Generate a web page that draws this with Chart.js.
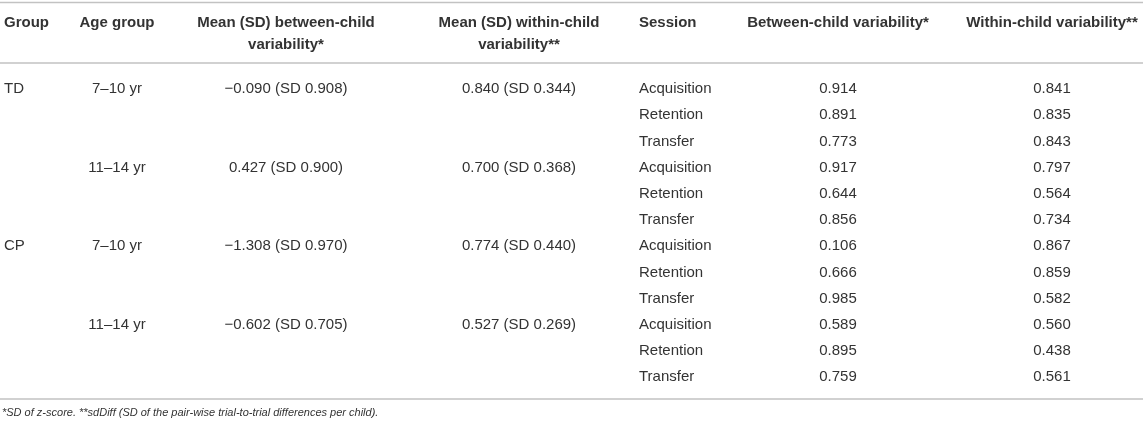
<!DOCTYPE html>
<html lang="en">
<head>
<meta charset="UTF-8">
<title>Between- and within-child variability</title>
<script src="https://cdn.jsdelivr.net/npm/chart.js"></script>
<style>
  html, body { margin: 0; padding: 0; background: #ffffff; }
  #wrap { width: 1143px; height: 426px; }
</style>
</head>
<body>
<div id="wrap"><canvas id="varTable" width="1143" height="426"></canvas></div>
<script>
// ---- table content ----
const headers = [
  ['Group'],
  ['Age group'],
  ['Mean (SD) between-child', 'variability*'],
  ['Mean (SD) within-child', 'variability**'],
  ['Session'],
  ['Between-child variability*'],
  ['Within-child variability**']
];
const groups = ['TD', 'CP'];
const ageGroups = ['7\u201310 yr', '11\u201314 yr'];
const meanBetween = [-0.090, 0.427, -1.308, -0.602];
const sdBetween = [0.908, 0.900, 0.970, 0.705];
const meanWithin = [0.840, 0.700, 0.774, 0.527];
const sdWithin = [0.344, 0.368, 0.440, 0.269];
const sessions = ['Acquisition', 'Retention', 'Transfer'];
const betweenChild = [0.914, 0.891, 0.773, 0.917, 0.644, 0.856, 0.106, 0.666, 0.985, 0.589, 0.895, 0.759];
const withinChild = [0.841, 0.835, 0.843, 0.797, 0.564, 0.734, 0.867, 0.859, 0.582, 0.560, 0.438, 0.561];
const footnote = '*SD of z-score. **sdDiff (SD of the pair-wise trial-to-trial differences per child).';

// ---- layout (pixels across, rows down) ----
const colX = [4, 117, 286, 519, 639, 838, 1052];
const colAlign = ['left', 'center', 'center', 'center', 'left', 'center', 'center'];
const headerRows = [-2.52, -1.68];
const ruleRows = [-3.30, -0.99, 11.83];
const footnoteRow = 12.37;
const fontFamily = '"Liberation Sans", Arial, Helvetica, sans-serif';
const textColor = '#333333';
const ruleColor = '#c2c2c2';

const fmt = v => (v < 0 ? '\u2212' : '') + Math.abs(v).toFixed(3);

// one dataset per column, each point = one cell
const sessionsPerAge = sessions.length;
const rowsPerGroup = ageGroups.length * sessionsPerAge;
const cols = [[], [], [], [], [], [], []];

groups.forEach((g, gi) => cols[0].push({ x: colX[0], y: gi * rowsPerGroup, text: g }));
meanBetween.forEach((m, k) => {
  const row = k * sessionsPerAge;
  cols[1].push({ x: colX[1], y: row, text: ageGroups[k % ageGroups.length] });
  cols[2].push({ x: colX[2], y: row, text: fmt(m) + ' (SD ' + fmt(sdBetween[k]) + ')' });
  cols[3].push({ x: colX[3], y: row, text: fmt(meanWithin[k]) + ' (SD ' + fmt(sdWithin[k]) + ')' });
});
betweenChild.forEach((v, r) => {
  cols[4].push({ x: colX[4], y: r, text: sessions[r % sessionsPerAge] });
  cols[5].push({ x: colX[5], y: r, text: fmt(v) });
  cols[6].push({ x: colX[6], y: r, text: fmt(withinChild[r]) });
});

const tableText = {
  id: 'tableText',
  afterDatasetsDraw(chart) {
    const ctx = chart.ctx;
    const xs = chart.scales.x, ys = chart.scales.y;
    ctx.save();

    // horizontal rules
    ctx.strokeStyle = ruleColor;
    ctx.lineWidth = 1.6;
    ruleRows.forEach(r => {
      const py = ys.getPixelForValue(r);
      ctx.beginPath();
      ctx.moveTo(xs.left, py);
      ctx.lineTo(xs.right, py);
      ctx.stroke();
    });

    ctx.fillStyle = textColor;
    ctx.textBaseline = 'middle';

    // header
    ctx.font = 'bold 15px ' + fontFamily;
    headers.forEach((lines, c) => {
      ctx.textAlign = colAlign[c];
      lines.forEach((t, li) => ctx.fillText(t, xs.getPixelForValue(colX[c]), ys.getPixelForValue(headerRows[li])));
    });

    // body cells
    ctx.font = '15px ' + fontFamily;
    chart.data.datasets.forEach((ds, i) => {
      const meta = chart.getDatasetMeta(i);
      ctx.textAlign = colAlign[i];
      meta.data.forEach((pt, j) => ctx.fillText(ds.data[j].text, pt.x, pt.y));
    });

    // footnote
    ctx.font = 'italic 11px ' + fontFamily;
    ctx.textAlign = 'left';
    ctx.fillText(footnote, xs.getPixelForValue(2), ys.getPixelForValue(footnoteRow));

    ctx.restore();
  }
};

new Chart(document.getElementById('varTable'), {
  type: 'scatter',
  data: {
    datasets: cols.map((c, i) => ({ label: headers[i].join(' '), data: c, pointRadius: 0, pointHoverRadius: 0 }))
  },
  options: {
    responsive: false,
    animation: false,
    events: [],
    layout: { padding: 0 },
    plugins: { legend: { display: false }, tooltip: { enabled: false } },
    scales: {
      x: { type: 'linear', min: 0, max: 1143, display: false },
      y: { type: 'linear', reverse: true, min: -3.397, max: 12.863, display: false }
    }
  },
  plugins: [tableText]
});
</script>
</body>
</html>
